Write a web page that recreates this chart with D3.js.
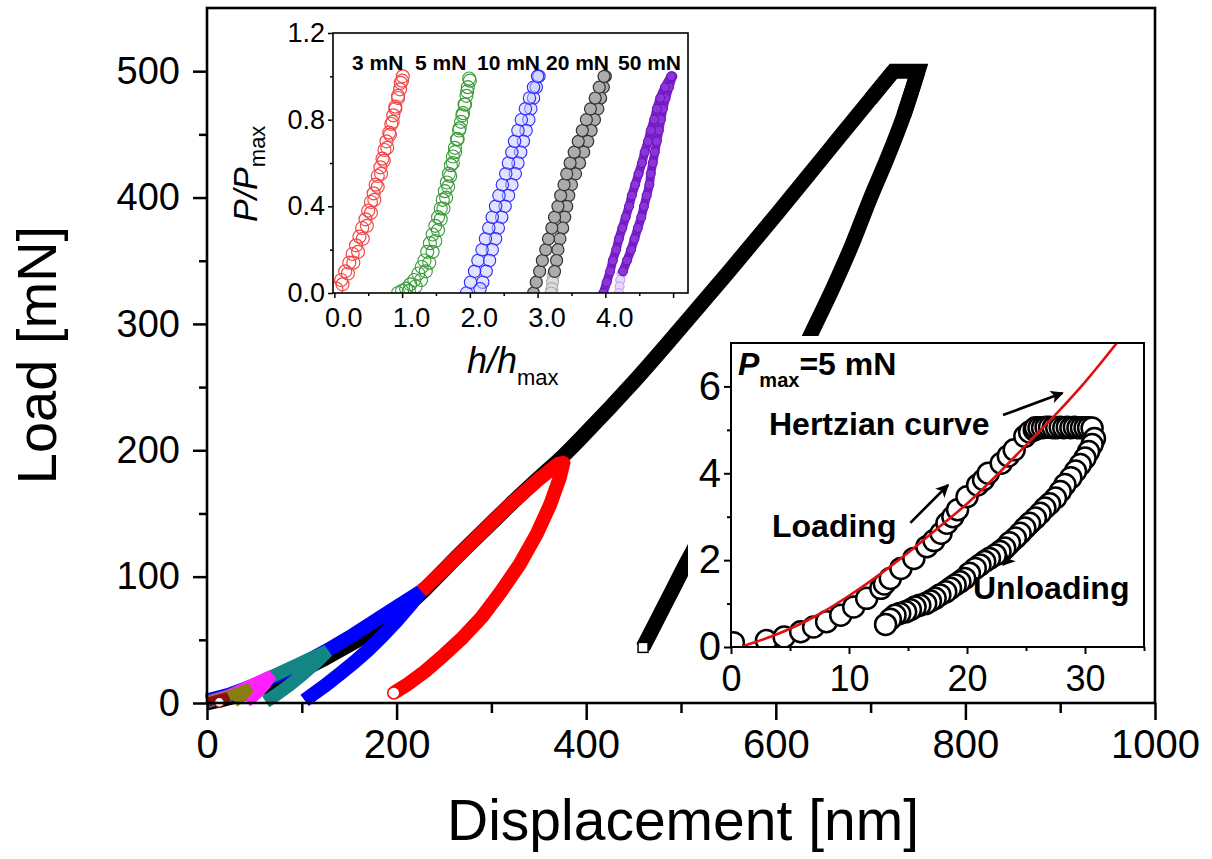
<!DOCTYPE html>
<html><head><meta charset="utf-8">
<script src="https://cdn.jsdelivr.net/npm/d3@7"></script>
<style>
body{margin:0;background:#fff}
svg{display:block}
text{font-family:"Liberation Sans",Arial,Helvetica,sans-serif}
</style>
</head><body>
<svg id="c" width="1212" height="859"></svg>
<script>
// ---------------- DATA ----------------
// main chart: displacement [nm], load [mN]
const mainXTicks = [0,200,400,600,800,1000];
const mainXMinor = [100,300,500,700,900];
const mainYTicks = [0,100,200,300,400,500];
const mainYMinor = [50,150,250,350,450];

const blackLoad = [[0,0],[50,10],[100,26],[150,46],[200,70],[230,90],[260,113],[290,135],[320,157],[350,178],[375,195],[400,214],[450,254],[500,297],[550,341],[600,386],[650,432],[700,478],[724,500]];
const blackHold = [[724,500],[737,500],[750,500]];
const blackUnload = [[750,500],[735,465],[718,432],[700,400],[680,362],[660,328],[639,295],[620,265],[600,236],[580,208],[560,183],[540,158],[520,131],[505,110],[490,88],[475,66],[460,44]];
const redLoad = [[212,80],[230,91],[260,113],[290,135],[320,157],[350,177],[370,189],[376,190]];
const redUnload = [[376,190],[372,178],[362,157],[348,134],[330,110],[310,88],[290,68],[270,52],[250,38],[230,25],[210,14],[197,8]];
const blueLoad = [[0,2],[25,7],[50,14],[75,22],[100,31],[125,41],[150,52],[175,64],[200,76],[225,88]];
const blueUnload = [[225,88],[215,78],[200,65],[185,53],[170,42],[155,32],[140,23],[125,14],[112,7],[103,2]];
const tealLoad = [[0,1],[20,5],[40,11],[60,18],[80,25],[100,32],[127,41]];
const tealUnload = [[127,41],[115,32],[100,22],[85,13],[72,6],[62,1]];
const magLoad = [[0,1],[25,7],[45,14],[68,22]];
const magUnload = [[68,22],[62,15],[55,9],[48,4],[42,1]];
const oliveLoad = [[0,1],[20,5],[45,12]];
const oliveUnload = [[45,12],[40,7],[34,3],[29,0.5]];
const dredLoad = [[0,0.5],[12,3],[22,5]];
const dredUnload = [[22,5],[18,2.5],[13,0.5]];

// inset 1: h/hmax (offset), P/Pmax
const in1XTicks = [0,1,2,3,4,5];
const in1XMinor = [0.5,1.5,2.5,3.5,4.5];
const in1YTicks = [0,0.4,0.8,1.2];
const in1YMinor = [0.2,0.6,1.0];
const in1Labels = ["3 mN","5 mN","10 mN","20 mN","50 mN"];

const in1RedA = [[0.03,0.02],[0.1,0.06],[0.16,0.1],[0.22,0.14],[0.27,0.18],[0.32,0.22],[0.37,0.26],[0.41,0.3],[0.46,0.34],[0.5,0.38],[0.54,0.42],[0.58,0.46],[0.61,0.5],[0.64,0.54],[0.68,0.58],[0.71,0.62],[0.74,0.66],[0.77,0.7],[0.81,0.74],[0.84,0.78],[0.87,0.82],[0.9,0.86],[0.94,0.9],[0.97,0.94],[1.0,0.98],[1.01,1.0]];
const in1RedB = [[0.12,0.04],[0.2,0.09],[0.28,0.14],[0.35,0.19],[0.42,0.25],[0.48,0.31],[0.54,0.37],[0.59,0.43],[0.64,0.49],[0.69,0.55],[0.73,0.61],[0.78,0.67],[0.82,0.73],[0.86,0.79],[0.9,0.85],[0.94,0.91],[0.98,0.97]];
const in1GreenA = [[0.94,0.0],[1.0,0.01],[1.06,0.02],[1.12,0.04],[1.18,0.06],[1.24,0.09],[1.29,0.12],[1.33,0.15],[1.37,0.19],[1.41,0.23],[1.45,0.27],[1.49,0.31],[1.53,0.35],[1.57,0.39],[1.6,0.43],[1.63,0.47],[1.66,0.51],[1.69,0.55],[1.72,0.59],[1.75,0.63],[1.78,0.67],[1.81,0.71],[1.84,0.75],[1.87,0.79],[1.9,0.83],[1.93,0.87],[1.95,0.91],[1.97,0.95],[1.99,0.99]];
const in1GreenB = [[1.1,0.01],[1.2,0.03],[1.28,0.06],[1.35,0.1],[1.4,0.14],[1.45,0.19],[1.49,0.24],[1.53,0.29],[1.57,0.34],[1.61,0.39],[1.65,0.44],[1.68,0.49],[1.71,0.54],[1.75,0.6],[1.78,0.65],[1.82,0.71],[1.85,0.76],[1.89,0.82],[1.92,0.87],[1.96,0.93],[2.0,0.98]];
const in1BlueA = [[1.95,0],[2.01,0.05],[2.07,0.1],[2.12,0.15],[2.18,0.2],[2.23,0.25],[2.28,0.3],[2.33,0.35],[2.38,0.4],[2.43,0.45],[2.48,0.5],[2.53,0.55],[2.57,0.6],[2.62,0.65],[2.66,0.7],[2.71,0.75],[2.76,0.8],[2.82,0.85],[2.88,0.9],[2.94,0.95],[3.0,1.0]];
const in1BlueB = [[3.02,1.0],[2.98,0.95],[2.94,0.9],[2.9,0.85],[2.87,0.8],[2.83,0.75],[2.79,0.7],[2.75,0.65],[2.71,0.6],[2.67,0.55],[2.62,0.5],[2.57,0.45],[2.52,0.4],[2.47,0.35],[2.42,0.3],[2.38,0.25],[2.33,0.2],[2.29,0.15],[2.24,0.1],[2.19,0.05],[2.15,0.02]];
const in1GreyA = [[2.94,0],[2.98,0.05],[3.03,0.1],[3.07,0.15],[3.12,0.2],[3.16,0.25],[3.21,0.3],[3.25,0.35],[3.3,0.4],[3.34,0.45],[3.39,0.5],[3.43,0.55],[3.48,0.6],[3.54,0.65],[3.6,0.7],[3.66,0.75],[3.72,0.8],[3.78,0.85],[3.85,0.9],[3.91,0.95],[3.98,1.0]];
const in1GreyB = [[4.0,1.0],[3.97,0.95],[3.93,0.9],[3.89,0.85],[3.84,0.8],[3.79,0.75],[3.74,0.7],[3.68,0.65],[3.62,0.6],[3.56,0.55],[3.5,0.5],[3.46,0.45],[3.43,0.4],[3.4,0.35],[3.37,0.3],[3.33,0.25],[3.3,0.2],[3.28,0.15],[3.25,0.1]];
const in1GreyC = [[3.23,0.08],[3.22,0.05],[3.21,0.02],[3.2,0.0]];
const in1PurpleA = [[3.97,0],[4.02,0.05],[4.07,0.1],[4.11,0.15],[4.16,0.2],[4.2,0.25],[4.25,0.3],[4.3,0.35],[4.35,0.4],[4.39,0.45],[4.44,0.5],[4.49,0.55],[4.54,0.6],[4.58,0.65],[4.63,0.7],[4.67,0.75],[4.72,0.8],[4.76,0.85],[4.81,0.9],[4.88,0.95],[4.97,1.0]];
const in1PurpleB = [[4.99,1.0],[4.94,0.95],[4.89,0.9],[4.85,0.85],[4.82,0.8],[4.79,0.75],[4.76,0.7],[4.73,0.65],[4.7,0.6],[4.67,0.55],[4.65,0.5],[4.61,0.45],[4.57,0.4],[4.53,0.35],[4.48,0.3],[4.43,0.25],[4.38,0.2],[4.32,0.15],[4.26,0.1]];
const in1PurpleC = [[4.24,0.09],[4.22,0.06],[4.21,0.03],[4.2,0.0]];

// inset 2: displacement [nm], load [mN], Pmax = 5 mN
const in2XTicks = [0,10,20,30];
const in2XMinor = [5,15,25,35];
const in2YTicks = [0,2,4,6];
const in2YMinor = [1,3,5];
const in2Load = [[0.2,0.1],[3.0,0.15],[4.5,0.23],[5.9,0.35],[7.0,0.46],[8.1,0.58],[9.3,0.73],[10.4,0.92],[11.5,1.12],[12.7,1.35],[13.0,1.45],[13.5,1.58],[14.4,1.81],[15.5,2.04],[16.6,2.31],[17.2,2.45],[17.8,2.62],[18.3,2.85],[18.8,3.0],[19.2,3.16],[20.0,3.46],[20.9,3.73],[21.4,3.85],[21.8,4.0],[22.9,4.23],[23.5,4.4],[24.0,4.54],[24.9,4.85],[25.3,4.95],[25.7,5.0]];
const in2Hold = [[25.8,5.05],[26.1,5.05],[26.4,5.05],[26.7,5.06],[27.0,5.06],[27.3,5.05],[27.6,5.05],[27.9,5.06],[28.2,5.05],[28.5,5.06],[28.8,5.05],[29.1,5.06],[29.4,5.05],[29.7,5.05],[30.0,5.05],[30.3,5.05],[30.6,5.04]];
const in2Unload = [[30.8,4.8],[30.6,4.66],[30.3,4.5],[30.0,4.35],[29.6,4.2],[29.2,4.05],[28.8,3.9],[28.3,3.74],[27.9,3.58],[27.5,3.43],[27.0,3.3],[26.6,3.2],[26.2,3.08],[25.8,2.97],[25.3,2.85],[24.9,2.74],[24.5,2.62],[24.1,2.51],[23.6,2.4],[23.2,2.28],[22.8,2.2],[22.4,2.12],[21.9,2.04],[21.5,1.97],[21.1,1.89],[20.7,1.81],[20.2,1.7],[19.8,1.58],[19.4,1.5],[19.0,1.43],[18.6,1.35],[18.2,1.27],[17.7,1.2],[17.3,1.12],[16.9,1.06],[16.5,1.0],[16.0,0.96],[15.6,0.92],[15.2,0.86],[14.8,0.81],[14.3,0.77],[13.9,0.73],[13.5,0.64],[13.1,0.52]];
const hertz = [[1,0.02],[3,0.2],[5,0.42],[7.5,0.76],[10,1.18],[12.5,1.65],[15,2.17],[17.5,2.73],[20,3.3],[22.5,3.95],[25,4.65],[27.5,5.35],[30,6.1],[32.7,7.0]];
const in2Arrows = [ {from:[23.05,5.34], to:[28.1,5.85]}, {from:[15.2,2.86], to:[18.4,3.73]}, {from:[26.4,2.81], to:[23.05,1.89]} ];

// ---------------- DRAW ----------------
const svg = d3.select('#c');
const FONT = '"Liberation Sans",Arial,Helvetica,sans-serif';

const x = d3.scaleLinear().domain([0,1000]).range([207,1155]);
const y = d3.scaleLinear().domain([0,550]).range([703,8]);

const defs = svg.append('defs');
defs.append('marker').attr('id','ah').attr('viewBox','0 0 10 10').attr('refX',9).attr('refY',5)
  .attr('markerWidth',5).attr('markerHeight',5).attr('orient','auto-start-reverse')
  .append('path').attr('d','M0,0 L10,5 L0,10 L2.5,5 z').attr('fill','#000');

const lineLin = d3.line().x(d=>x(d[0])).y(d=>y(d[1])).curve(d3.curveLinear);
const lineMX = d3.line().x(d=>x(d[0])).y(d=>y(d[1])).curve(d3.curveMonotoneX);
const lineMY = d3.line().x(d=>x(d[0])).y(d=>y(d[1])).curve(d3.curveMonotoneY);
const gMain = svg.append('g');

// black: smooth loading + smooth unloading + sharp hold corners
gMain.append('path').attr('d',lineMX(blackLoad)).attr('fill','none').attr('stroke','#000').attr('stroke-width',15).attr('stroke-linecap','butt');
gMain.append('path').attr('d',lineMY(blackUnload)).attr('fill','none').attr('stroke','#000').attr('stroke-width',15).attr('stroke-linecap','butt');
gMain.append('path').attr('d',lineLin([blackLoad[blackLoad.length-2]].concat(blackHold,[blackUnload[1]])))
  .attr('fill','none').attr('stroke','#000').attr('stroke-width',15).attr('stroke-linejoin','miter').attr('stroke-miterlimit',6).attr('stroke-linecap','butt');

function loop(load,unload,color,w,join){
  gMain.append('path').attr('d',lineLin(load.concat(unload.slice(1)))).attr('fill','none').attr('stroke',color)
    .attr('stroke-width',w).attr('stroke-linejoin',join).attr('stroke-linecap','butt');
}
loop(redLoad,redUnload,'#ff0000',14,'round');
loop(blueLoad,blueUnload,'#0000ff',14,'bevel');
loop(tealLoad,tealUnload,'#138585',13,'bevel');
loop(magLoad,magUnload,'#ff22ff',11,'bevel');
loop(oliveLoad,oliveUnload,'#8a7d10',10,'bevel');
loop(dredLoad,dredUnload,'#8a1010',9,'bevel');
// end markers
const lastB = blackUnload[blackUnload.length-1];
gMain.append('rect').attr('x',x(lastB[0])-5).attr('y',y(lastB[1])-5).attr('width',10).attr('height',10)
  .attr('fill','#fff').attr('stroke','#000').attr('stroke-width',1.5);
const lastR = redUnload[redUnload.length-1];
gMain.append('circle').attr('cx',x(lastR[0])).attr('cy',y(lastR[1])).attr('r',6)
  .attr('fill','#fff').attr('stroke','#ff0000').attr('stroke-width',1.5);
const lastD = dredUnload[dredUnload.length-1];
gMain.append('circle').attr('cx',x(lastD[0])).attr('cy',y(lastD[1])).attr('r',5)
  .attr('fill','#fff').attr('stroke','#8a1010').attr('stroke-width',1.5);

function styleAxis(g,fs,sw){
  g.select('.domain').remove();
  g.selectAll('.tick line').attr('stroke','#000').attr('stroke-width',sw);
  g.selectAll('text').attr('font-size',fs).attr('fill','#000').attr('font-family',FONT);
}
const gx = svg.append('g').attr('transform',`translate(0,${y(0)})`)
  .call(d3.axisBottom(x).tickValues(mainXTicks).tickSize(17).tickSizeOuter(0).tickPadding(10).tickFormat(d3.format('d')));
styleAxis(gx,40,2.5);
const gxm = svg.append('g').attr('transform',`translate(0,${y(0)})`)
  .call(d3.axisBottom(x).tickValues(mainXMinor).tickSize(10).tickSizeOuter(0).tickFormat(''));
styleAxis(gxm,1,2.5);
const gy = svg.append('g').attr('transform',`translate(${x(0)},0)`)
  .call(d3.axisLeft(y).tickValues(mainYTicks).tickSize(14).tickSizeOuter(0).tickPadding(13).tickFormat(d3.format('d')));
styleAxis(gy,38,2.5);
const gym = svg.append('g').attr('transform',`translate(${x(0)},0)`)
  .call(d3.axisLeft(y).tickValues(mainYMinor).tickSize(8).tickSizeOuter(0).tickFormat(''));
styleAxis(gym,1,2.5);
svg.append('rect').attr('x',x(0)).attr('y',y(550)).attr('width',x(1000)-x(0)).attr('height',y(0)-y(550))
  .attr('fill','none').attr('stroke','#000').attr('stroke-width',2.6);

svg.append('text').attr('x',683).attr('y',840).attr('text-anchor','middle')
  .attr('font-size',57).attr('font-family',FONT).text('Displacement [nm]');
svg.append('text').attr('transform','translate(56,355) rotate(-90)').attr('text-anchor','middle')
  .attr('font-size',56).attr('font-family',FONT).text('Load [mN]');

// ---------------- INSET 1 ----------------
const x1 = d3.scaleLinear().domain([-0.02,5.22]).range([333,688]);
const y1 = d3.scaleLinear().domain([0,1.2]).range([293,33]);
const g1 = svg.append('g');
g1.append('rect').attr('x',333).attr('y',33).attr('width',355).attr('height',260).attr('fill','#fff');
defs.append('clipPath').attr('id','clip1').append('rect').attr('x',333).attr('y',33).attr('width',355).attr('height',260);
const g1d = g1.append('g').attr('clip-path','url(#clip1)');
function rings(g,data,xs,ys,r,stroke,fill,sw){
  g.append('g').selectAll('circle').data(data).join('circle')
    .attr('cx',d=>xs(d[0])).attr('cy',d=>ys(d[1])).attr('r',r)
    .attr('fill',fill).attr('stroke',stroke).attr('stroke-width',sw);
}
rings(g1d,in1RedB,x1,y1,6.5,'#f04848','none',1.2);
rings(g1d,in1RedA,x1,y1,6.5,'#f04848','none',1.2);
rings(g1d,in1GreenB,x1,y1,6.5,'#3c9a3c','none',1.1);
rings(g1d,in1GreenA,x1,y1,6.5,'#3c9a3c','none',1.1);
rings(g1d,in1BlueB,x1,y1,6.2,'#2a2aff','rgba(200,200,255,0.5)',1.1);
rings(g1d,in1BlueA,x1,y1,6.2,'#2a2aff','rgba(200,200,255,0.5)',1.1);
rings(g1d,in1GreyC,x1,y1,6,'#aaaaaa','#dddddd',1.1);
rings(g1d,in1GreyB,x1,y1,6,'#333','#acacac',1.2);
rings(g1d,in1GreyA,x1,y1,6,'#333','#acacac',1.2);
const l1 = d3.line().x(d=>x1(d[0])).y(d=>y1(d[1])).curve(d3.curveCatmullRom.alpha(0.5));
rings(g1d,in1PurpleC,x1,y1,4.5,'#c8a0ee','#e8d8fb',1.2);
g1d.append('path').attr('d',l1(in1PurpleB)).attr('fill','none').attr('stroke','#7a1fcc').attr('stroke-width',9).attr('stroke-linecap','round');
g1d.append('path').attr('d',l1(in1PurpleA)).attr('fill','none').attr('stroke','#7a1fcc').attr('stroke-width',9).attr('stroke-linecap','round');
rings(g1d,in1PurpleB,x1,y1,4.5,'#6a10b8','#8a35d8',1);
rings(g1d,in1PurpleA,x1,y1,4.5,'#6a10b8','#8a35d8',1);

const g1x = svg.append('g').attr('transform',`translate(0,${y1(0)})`)
  .call(d3.axisBottom(x1).tickValues(in1XTicks).tickSize(5).tickSizeOuter(0).tickPadding(10).tickFormat(d=>d<5?d3.format('.1f')(d):''));
styleAxis(g1x,27,1.5);
g1x.selectAll('text').attr('dx',9);
const g1xm = svg.append('g').attr('transform',`translate(0,${y1(0)})`)
  .call(d3.axisBottom(x1).tickValues(in1XMinor).tickSize(3).tickSizeOuter(0).tickFormat(''));
styleAxis(g1xm,1,1.5);
const g1y = svg.append('g').attr('transform',`translate(333,0)`)
  .call(d3.axisLeft(y1).tickValues(in1YTicks).tickSize(5).tickSizeOuter(0).tickPadding(3).tickFormat(d3.format('.1f')));
styleAxis(g1y,27,1.5);
const g1ym = svg.append('g').attr('transform',`translate(333,0)`)
  .call(d3.axisLeft(y1).tickValues(in1YMinor).tickSize(3).tickSizeOuter(0).tickFormat(''));
styleAxis(g1ym,1,1.5);
g1.append('rect').attr('x',333).attr('y',33).attr('width',355).attr('height',260)
  .attr('fill','none').attr('stroke','#000').attr('stroke-width',1.6);
const lblX = [352,415,477,546,618];
svg.append('g').selectAll('text').data(in1Labels).join('text')
  .attr('x',(d,i)=>lblX[i]).attr('y',70).attr('font-size',21).attr('font-weight','bold')
  .attr('font-family',FONT).text(d=>d);
const t1 = svg.append('text').attr('x',467).attr('y',373).attr('font-family',FONT);
t1.append('tspan').attr('font-size',36).attr('font-style','italic').text('h/h');
t1.append('tspan').attr('font-size',22).attr('dy',12).text('max');
const t2 = svg.append('text').attr('transform','translate(257,222) rotate(-90)').attr('font-family',FONT);
t2.append('tspan').attr('font-size',34).attr('font-style','italic').text('P/P');
t2.append('tspan').attr('font-size',22).attr('dy',8).text('max');

// ---------------- INSET 2 ----------------
const x2 = d3.scaleLinear().domain([0,35]).range([731,1144]);
const y2 = d3.scaleLinear().domain([0,7]).range([647,343]);
const g2 = svg.append('g');
g2.append('rect').attr('x',688).attr('y',336).attr('width',465).attr('height',364).attr('fill','#fff');
defs.append('clipPath').attr('id','clip2').append('rect').attr('x',731).attr('y',343).attr('width',413).attr('height',304);
const g2d = g2.append('g').attr('clip-path','url(#clip2)');
rings(g2d,in2Load,x2,y2,10.5,'#000','#fff',2.5);
rings(g2d,in2Hold,x2,y2,10.5,'#000','#fff',2.5);
rings(g2d,in2Unload,x2,y2,10.5,'#000','#fff',2.5);
const l2 = d3.line().x(d=>x2(d[0])).y(d=>y2(d[1])).curve(d3.curveCatmullRom.alpha(0.5));
g2d.append('path').attr('d',l2(hertz)).attr('fill','none').attr('stroke','#e01010').attr('stroke-width',2.6);

const g2x = svg.append('g').attr('transform',`translate(0,${y2(0)})`)
  .call(d3.axisBottom(x2).tickValues(in2XTicks).tickSize(7).tickSizeOuter(0).tickPadding(11).tickFormat(d3.format('d')));
styleAxis(g2x,36,2);
const g2xm = svg.append('g').attr('transform',`translate(0,${y2(0)})`)
  .call(d3.axisBottom(x2).tickValues(in2XMinor).tickSize(4).tickSizeOuter(0).tickFormat(''));
styleAxis(g2xm,1,2);
const g2y = svg.append('g').attr('transform',`translate(731,0)`)
  .call(d3.axisLeft(y2).tickValues(in2YTicks).tickSize(7).tickSizeOuter(0).tickPadding(3).tickFormat(d3.format('d')));
styleAxis(g2y,40,2);
const g2ym = svg.append('g').attr('transform',`translate(731,0)`)
  .call(d3.axisLeft(y2).tickValues(in2YMinor).tickSize(4).tickSizeOuter(0).tickFormat(''));
styleAxis(g2ym,1,2);
g2.append('rect').attr('x',731).attr('y',343).attr('width',413).attr('height',304)
  .attr('fill','none').attr('stroke','#000').attr('stroke-width',2);

svg.append('g').selectAll('line').data(in2Arrows).join('line')
  .attr('x1',d=>x2(d.from[0])).attr('y1',d=>y2(d.from[1]))
  .attr('x2',d=>x2(d.to[0])).attr('y2',d=>y2(d.to[1]))
  .attr('stroke','#000').attr('stroke-width',2.6).attr('marker-end','url(#ah)');

const tp = svg.append('text').attr('x',738).attr('y',375).attr('font-family',FONT).attr('font-weight','bold');
tp.append('tspan').attr('font-size',32).attr('font-style','italic').text('P');
tp.append('tspan').attr('font-size',20).attr('dy',12).text('max');
tp.append('tspan').attr('font-size',32).attr('dy',-12).text('=5 mN');
svg.append('text').attr('x',769).attr('y',435).attr('font-size',32).attr('font-weight','bold').attr('font-family',FONT).text('Hertzian curve');
svg.append('text').attr('x',772).attr('y',537).attr('font-size',32).attr('font-weight','bold').attr('font-family',FONT).text('Loading');
svg.append('text').attr('x',973).attr('y',599).attr('font-size',32).attr('font-weight','bold').attr('font-family',FONT).text('Unloading');
</script>
</body></html>
